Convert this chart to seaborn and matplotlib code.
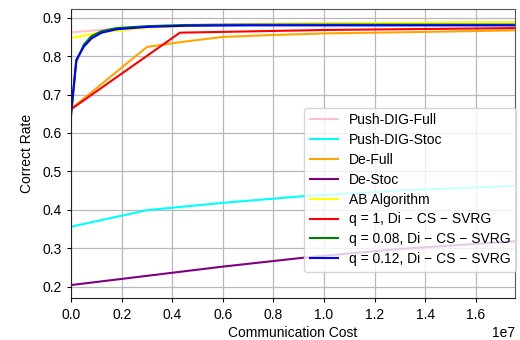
import numpy as np
import pandas as pd
import matplotlib
matplotlib.use("Agg")
import matplotlib.pyplot as plt
import seaborn as sns

# ---- data (communication cost in units of 1e7) ----
pdf_x = [0.0, 0.15, 0.3, 0.6, 1.0, 1.755]
pdf_y = [0.862, 0.870, 0.877, 0.883, 0.886, 0.888]

pds_x = [0.0, 0.3, 0.6, 0.93, 1.3, 1.755]
pds_y = [0.356, 0.399, 0.418, 0.436, 0.450, 0.462]

df_x = [0.0, 0.3, 0.45, 0.6, 0.8, 1.0, 1.4, 1.755]
df_y = [0.663, 0.824, 0.838, 0.850, 0.855, 0.859, 0.863, 0.867]

ds_x = [0.0, 0.3, 0.6, 0.93, 1.3, 1.755]
ds_y = [0.204, 0.228, 0.252, 0.276, 0.298, 0.318]

ab_x = [0.0, 0.1, 0.3, 0.6, 1.0, 1.755]
ab_y = [0.847, 0.860, 0.874, 0.881, 0.885, 0.888]

q1_x = [0.0, 0.43, 1.0, 1.755]
q1_y = [0.662, 0.861, 0.868, 0.873]

q008_x = [0.0, 0.02, 0.05, 0.08, 0.12, 0.18, 0.3, 0.45, 0.7, 1.0, 1.4, 1.755]
q008_y = [0.648, 0.786, 0.830, 0.852, 0.865, 0.873, 0.878, 0.881, 0.882, 0.882, 0.882, 0.882]

q012_x = [0.0, 0.02, 0.05, 0.08, 0.12, 0.18, 0.3, 0.45, 0.7, 1.0, 1.4, 1.755]
q012_y = [0.658, 0.790, 0.825, 0.846, 0.861, 0.870, 0.876, 0.879, 0.880, 0.880, 0.880, 0.880]

labels = ["Push-DIG-Full", "Push-DIG-Stoc", "De-Full", "De-Stoc", "AB Algorithm",
          "q = 1, Di − CS − SVRG", "q = 0.08, Di − CS − SVRG", "q = 0.12, Di − CS − SVRG"]
colors = ["pink", "cyan", "orange", "purple", "yellow", "red", "green", "blue"]
series = [(pdf_x, pdf_y), (pds_x, pds_y), (df_x, df_y), (ds_x, ds_y),
          (ab_x, ab_y), (q1_x, q1_y), (q008_x, q008_y), (q012_x, q012_y)]

plt.rcParams['font.family'] = ['Liberation Sans', 'DejaVu Sans']
plt.rcParams['font.size'] = 10

fig = plt.figure(figsize=(5.2, 3.4), dpi=100)
ax = fig.add_axes([0.137, 0.123, 0.853, 0.850])

for (xs, ys), lab, col in zip(series, labels, colors):
    d = pd.DataFrame({"x": np.array(xs) * 1e7, "y": ys})
    sns.lineplot(data=d, x="x", y="y", ax=ax, color=col, label=lab, lw=1.5)

ax.set_xlim(0, 1.755e7)
ax.margins(y=0.05)
ax.set_yticks([0.2, 0.3, 0.4, 0.5, 0.6, 0.7, 0.8, 0.9])
ax.set_xticks([0, 0.2e7, 0.4e7, 0.6e7, 0.8e7, 1.0e7, 1.2e7, 1.4e7, 1.6e7])
ax.grid(True, color='#b8b8b8', lw=0.9)
ax.set_axisbelow(True)
for s in ['top', 'right']:
    ax.spines[s].set_color('#555555')
for s in ['left', 'bottom']:
    ax.spines[s].set_color('#222222')
ax.tick_params(length=3, width=0.8, labelsize=10, pad=4)
ax.set_xlabel("Communication Cost", fontsize=10, labelpad=3)
ax.set_ylabel("Correct Rate", fontsize=10, labelpad=6)
ax.xaxis.get_offset_text().set_fontsize(10)

leg = ax.legend(loc='lower right', bbox_to_anchor=(1.018, 0.068), fontsize=10,
                frameon=True, fancybox=True, framealpha=0.8, edgecolor='#cccccc',
                handlelength=2.0, labelspacing=0.42, borderpad=0.4)

fig.savefig("out.png", dpi=100)
